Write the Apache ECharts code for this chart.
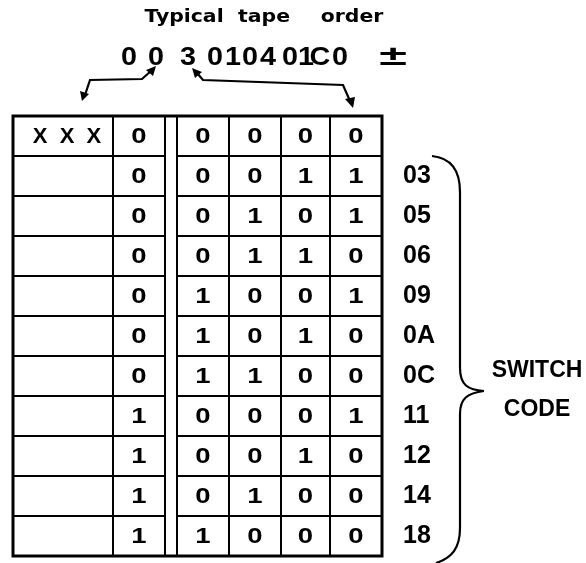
<!DOCTYPE html>
<html>
<head>
<meta charset="utf-8">
<script src="https://cdn.jsdelivr.net/npm/echarts@6/dist/echarts.min.js"></script>
<style>
html,body{margin:0;padding:0;background:#fff;}
#chart{width:586px;height:563px;}
</style>
</head>
<body>
<div id="chart"></div>
<script>
// ---- data ----
const titleWords = ['Typical', 'tape', 'order'];
const tapeOrder = ['0','0','3','0','1','0','4','0','1','C','0'];
const tapeSign = '±';
const headerLabel = 'X  X  X';
const switchCodes = ['03','05','06','09','0A','0C','11','12','14','18'];
const bit4 = [0,0,0,0,0,0,0,1,1,1,1];
const bit3 = [0,0,0,0,1,1,1,0,0,0,1];
const bit2 = [0,0,1,1,0,0,1,0,0,1,0];
const bit1 = [0,1,0,1,0,1,0,0,1,0,0];
const bit0 = [0,1,1,0,1,0,0,1,0,0,0];
const braceLabel = ['SWITCH', 'CODE'];

// ---- layout ----
const rowNames = [''].concat(switchCodes);
const colSpans = [[0,100],[100,152],[164,216],[216,268],[268,317],[317,369]];
const bitCols = [bit4, bit3, bit2, bit1, bit0];
const cells = [];
for (let r = 0; r < rowNames.length; r++) {
  cells.push({c: 0, r: r, t: r === 0 ? headerLabel : ''});
  bitCols.forEach(function (col, i) {
    cells.push({c: i + 1, r: r, t: String(col[r])});
  });
}

const FF = 'Liberation Sans';
function ts(text, size, weight, family) {
  return {text: text, fill: '#000', fontSize: size, fontWeight: weight || 'normal', fontFamily: family || FF, align: 'center', verticalAlign: 'middle'};
}
const chart = echarts.init(document.getElementById('chart'), null, {renderer: 'canvas'});

const graphics = [];
const titleX = [184, 264, 352];
titleWords.forEach(function (w, i) {
  graphics.push({type: 'text', x: titleX[i], y: 18, scaleX: 1.2, style: ts(w, 17, 'bold', 'DejaVu Sans')});
});
const tapeX = [129,156,188,215,233,250,268,290,306,320,340];
tapeOrder.forEach(function (ch, i) {
  graphics.push({type: 'text', x: tapeX[i], y: 58, scaleX: 1.15, style: ts(ch, 25, 'bold')});
});
graphics.push({type: 'text', x: 393, y: 57, scaleX: 1.8, style: ts(tapeSign, 28, 'bold')});
const lineStyle = {stroke: '#000', lineWidth: 2.2, fill: null};
graphics.push({type: 'polyline', shape: {points: [[85,95],[90,80],[142,79],[151,71]]}, style: lineStyle});
graphics.push({type: 'polygon', shape: {points: [[82,101],[80,91],[89,94]]}, style: {fill: '#000'}});
graphics.push({type: 'polygon', shape: {points: [[156,66],[146,70],[153,76]]}, style: {fill: '#000'}});
graphics.push({type: 'polyline', shape: {points: [[197,73],[203,80],[343,85],[350,101]]}, style: lineStyle});
graphics.push({type: 'polygon', shape: {points: [[192,68],[195,78],[202,72]]}, style: {fill: '#000'}});
graphics.push({type: 'polygon', shape: {points: [[353,108],[345,99],[355,97]]}, style: {fill: '#000'}});
// brace
const braceStyle = {stroke: '#000', lineWidth: 2.2, fill: null};
graphics.push({type: 'bezierCurve', shape: {x1: 432, y1: 156, cpx1: 452, cpy1: 158, cpx2: 460, cpy2: 172, x2: 460, y2: 192}, style: braceStyle});
graphics.push({type: 'line', shape: {x1: 460, y1: 192, x2: 460, y2: 368}, style: braceStyle});
graphics.push({type: 'bezierCurve', shape: {x1: 460, y1: 368, cpx1: 460, cpy1: 385, cpx2: 468, cpy2: 390, x2: 484, y2: 391}, style: braceStyle});
graphics.push({type: 'bezierCurve', shape: {x1: 484, y1: 391, cpx1: 468, cpy1: 393, cpx2: 460, cpy2: 398, x2: 460, y2: 414}, style: braceStyle});
graphics.push({type: 'line', shape: {x1: 460, y1: 414, x2: 460, y2: 528}, style: braceStyle});
graphics.push({type: 'bezierCurve', shape: {x1: 460, y1: 528, cpx1: 460, cpy1: 548, cpx2: 452, cpy2: 558, x2: 436, y2: 563}, style: braceStyle});
graphics.push({type: 'text', x: 537, y: 371, style: ts(braceLabel[0], 23, 'bold')});
graphics.push({type: 'text', x: 537, y: 410, style: ts(braceLabel[1], 23, 'bold')});

chart.setOption({
  animation: false,
  backgroundColor: '#fff',
  grid: {left: 13, top: 116, width: 369, height: 440, show: true, borderColor: '#000', borderWidth: 3, backgroundColor: '#fff'},
  xAxis: {type: 'value', min: 0, max: 369, show: false},
  yAxis: {
    type: 'category', data: rowNames, inverse: true, position: 'right',
    axisLine: {show: false}, axisTick: {show: false}, splitLine: {show: false},
    axisLabel: {margin: 21, fontSize: 25, fontWeight: 'bold', color: '#000', fontFamily: FF, padding: [6,0,0,0]}
  },
  series: [{
    type: 'custom',
    data: cells.map(function (d) { return [d.c, d.r]; }),
    renderItem: function (params, api) {
      const cell = cells[params.dataIndex];
      const span = colSpans[cell.c];
      const a = api.coord([span[0], cell.r]);
      const b = api.coord([span[1], cell.r]);
      const h = api.size([0, 1])[1];
      const children = [{
        type: 'rect',
        shape: {x: a[0], y: a[1] - h / 2, width: b[0] - a[0], height: h},
        style: {fill: 'none', stroke: '#000', lineWidth: 2}
      }];
      if (cell.t) {
        children.push({
          type: 'text',
          x: (a[0] + b[0]) / 2 + (cell.c === 0 ? 4 : 0), y: a[1] + 1,
          scaleX: cell.c === 0 ? 1 : 1.25,
          style: ts(cell.t, 22, 'bold')
        });
      }
      return {type: 'group', children: children};
    }
  }],
  graphic: graphics
});
</script>
</body>
</html>
